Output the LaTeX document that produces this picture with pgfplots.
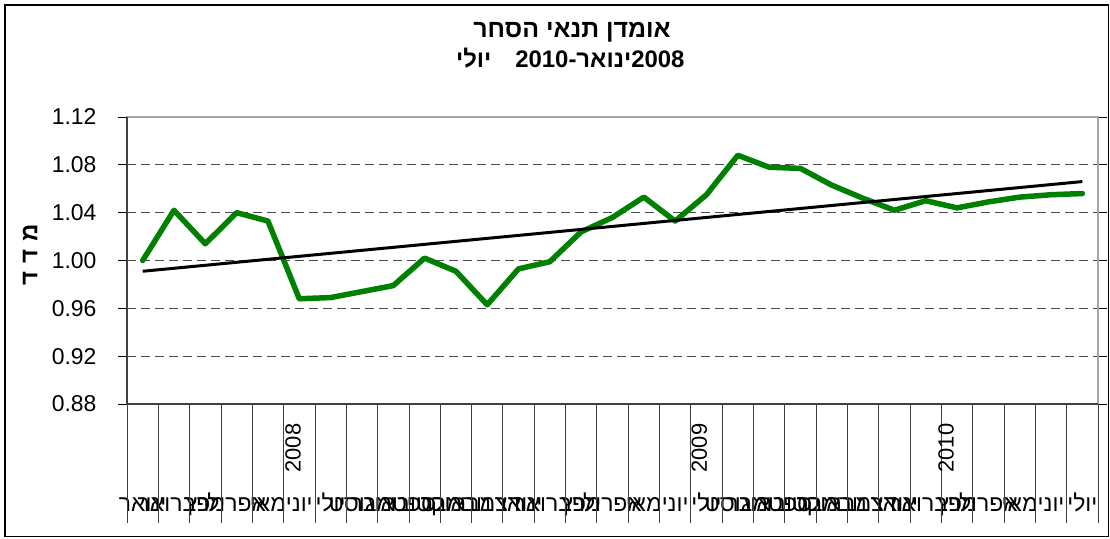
\documentclass[border=0pt]{standalone}
\usepackage{fontspec}
\setmainfont{Liberation Sans}
\newfontfamily\heb[Script=Hebrew]{Liberation Sans}
\usepackage{pgfplots}
\pgfplotsset{compat=1.18}
\newcommand{\R}[1]{{\heb #1}}
\definecolor{xlgreen}{RGB}{0,128,0}

\begin{document}
\begin{tikzpicture}
\useasboundingbox (0bp,0bp) rectangle (1110bp,539bp);
\draw[line width=1.5bp] (5bp,2.5bp) rectangle (1108.5bp,534bp);
\node[font=\fontsize{25}{29}\selectfont\bfseries] at (572bp,507bp) {\R{הסחר} \R{תנאי} \R{אומדן}};
\node[font=\fontsize{24}{28}\selectfont\bfseries, anchor=east] at (688bp,481bp) {\R{יולי}\hspace{1.0em}2010-\R{ינואר}2008};
\node[rotate=90, font=\fontsize{24}{28}\selectfont\bfseries] at (30bp,284bp) {\R{ד}\hspace{0.33em}\R{ד}\hspace{0.33em}\R{מ}};
\begin{axis}[
  at={(127bp,135bp)}, anchor=south west,
  scale only axis, width=971bp, height=287bp,
  xmin=-0.5, xmax=30.5, ymin=0.88, ymax=1.12,
  ytick={0.88,0.92,0.96,1.00,1.04,1.08,1.12},
  yticklabel style={xshift=-18bp, /pgf/number format/.cd, fixed, fixed zerofill, precision=2},
  /pgf/number format/assume math mode=true,
  tick label style={font=\fontsize{23}{27}\selectfont},
  xtick={0,...,30},
  xticklabels={\R{ינואר},\R{פברואר},\R{מרץ},\R{אפריל},\R{מאי},\R{יוני},\R{יולי},\R{אוגוסט},\R{ספטמבר},\R{אוקטובר},\R{נובמבר},\R{דצמבר},
               \R{ינואר},\R{פברואר},\R{מרץ},\R{אפריל},\R{מאי},\R{יוני},\R{יולי},\R{אוגוסט},\R{ספטמבר},\R{אוקטובר},\R{נובמבר},\R{דצמבר},
               \R{ינואר},\R{פברואר},\R{מרץ},\R{אפריל},\R{מאי},\R{יוני},\R{יולי}},
  xticklabel style={anchor=base, yshift=-98bp},
  xtick style={draw=none},
  tick align=outside, major tick length=9bp,
  ytick style={black, line width=0.8bp},
  ymajorgrids,
  major grid style={gray!60!black, line width=0.9bp, dash pattern=on 9bp off 5bp},
  axis line style={draw=gray!70, line width=1.2bp},
  clip=false,
]
\addplot[xlgreen, line width=5.5bp, line join=round, line cap=round] coordinates {
(0,1.000) (1,1.042) (2,1.014) (3,1.040) (4,1.033) (5,0.968) (6,0.969) (7,0.974)
(8,0.979) (9,1.002) (10,0.991) (11,0.963) (12,0.993) (13,0.999) (14,1.024) (15,1.036)
(16,1.053) (17,1.033) (18,1.055) (19,1.088) (20,1.078) (21,1.077) (22,1.063) (23,1.052)
(24,1.042) (25,1.050) (26,1.044) (27,1.049) (28,1.053) (29,1.055) (30,1.056)};
\addplot[black, line width=3bp] coordinates {(0,0.991) (30,1.066)};
\draw[black!75, line width=1.2bp] (axis cs:-0.5,1.12) -- (axis cs:-0.5,0.88) -- (axis cs:30.5,0.88);
\pgfplotsinvokeforeach{0,...,31}{\draw[black!75, line width=0.8bp] (axis cs:#1-0.5,0.88) -- (axis cs:#1-0.5,0.7805);}
\node[rotate=90, font=\fontsize{22}{26}\selectfont] at (axis cs:4.8,0.8432) {2008};
\node[rotate=90, font=\fontsize{22}{26}\selectfont] at (axis cs:17.77,0.8432) {2009};
\node[rotate=90, font=\fontsize{22}{26}\selectfont] at (axis cs:25.65,0.8432) {2010};
\end{axis}
\end{tikzpicture}
\end{document}
